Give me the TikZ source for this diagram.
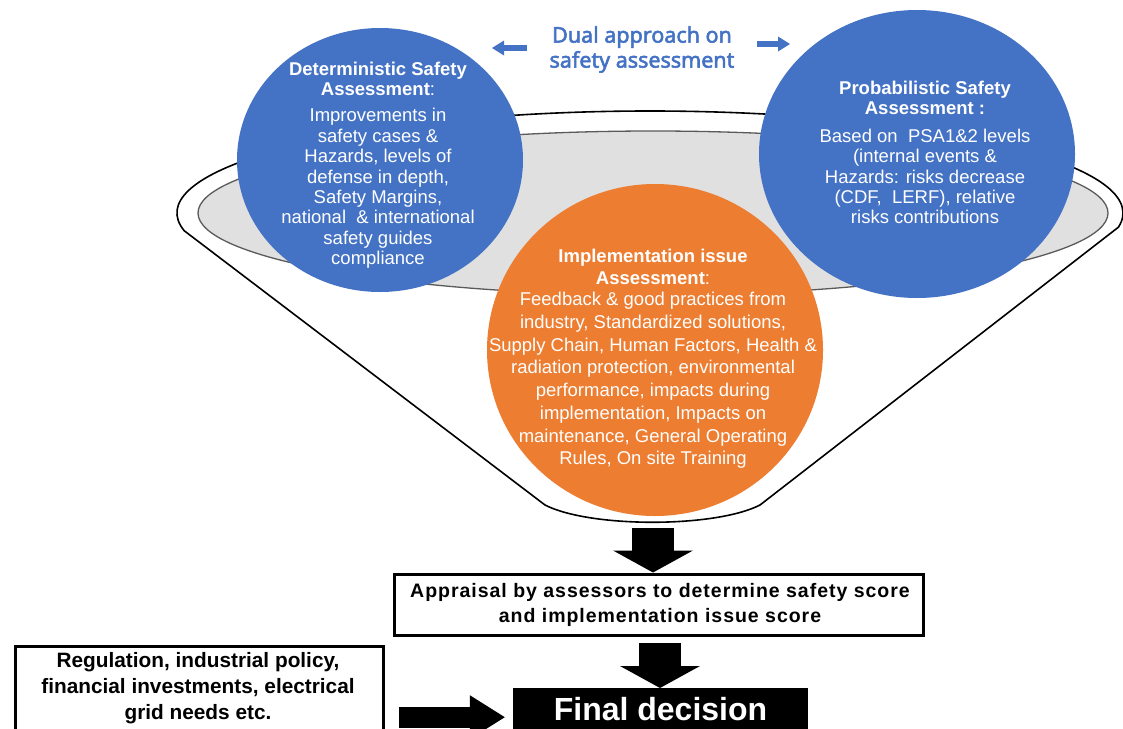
\documentclass[tikz,border=0pt]{standalone}
\usepackage{fontspec}
\setmainfont{Liberation Sans}
\newfontfamily\dualfont[FakeBold=2.5]{Noto Sans}
\newfontfamily\spacedfont[LetterSpace=5]{Liberation Sans}
\usetikzlibrary{arrows.meta,calc,shapes.geometric}

\definecolor{psablue}{RGB}{68,114,196}
\definecolor{issueorange}{RGB}{237,125,49}
\definecolor{rimgrey}{RGB}{224,224,224}
\definecolor{rimedge}{RGB}{90,90,90}

\tikzset{
  bubble/.style={ellipse, inner sep=0pt, outer sep=0pt, draw=none},
  headtext/.style={text=white, align=center, inner sep=0pt,
    font=\fontsize{18.5}{19.5}\selectfont\bfseries},
  bodytext/.style={text=white, align=center, inner sep=0pt,
    font=\fontsize{18.5}{20.4}\selectfont},
  issuetext/.style={text=white, align=center, inner sep=0pt,
    font=\fontsize{18.5}{22.7}\selectfont},
  framebox/.style={draw=black, line width=3pt, fill=white, inner sep=0pt},
  boxtext/.style 2 args={align=center, inner sep=0pt, font=\fontsize{#1}{#2}\selectfont\bfseries},
  bigarrow/.style={line width=42pt,
    -{Triangle[length=22pt 0, width=80pt 0, line width=0pt]}},
  smallarrow/.style={draw=psablue, line width=6pt,
    -{Triangle[length=12pt 0, width=15pt 0, line width=0pt]}},
}

\begin{document}
\begin{tikzpicture}[x=1pt, y=1pt]
\useasboundingbox (0,0) rectangle (1123,-728);

% funnel body with its rim
\coordinate (rim) at (650,-213);
\draw[line width=1.6pt, fill=white]
  ($(rim)+(190:473 and 102)$)
  arc[start angle=190, end angle=-8, x radius=473, y radius=102]
  -- (760,-505) .. controls (715,-528) and (590,-528) .. (545,-505) -- cycle;
\draw[fill=rimgrey, draw=rimedge, line width=1.3pt]
  (653,-213) ellipse [x radius=455, y radius=82];

% three assessment bubbles
\node[bubble, fill=psablue, minimum width=286, minimum height=264] (dsa) at (380,-160) {};
\node[bubble, fill=psablue, minimum width=316, minimum height=288] (psa) at (917,-154) {};
\node[bubble, fill=issueorange, minimum width=336, minimum height=332] (iia) at (655,-350) {};

\node[headtext] (dsahead) at (378,-79) {Deterministic Safety\\Assessment\textmd{:}};
\node[bodytext] (dsabody) at (378,-188.5) {Improvements in\\safety cases \&\\Hazards, levels of\\defense in depth,\\Safety Margins,\\national \ \& international\\safety guides\\compliance};

\node[headtext] (psahead) at (925,-98) {Probabilistic Safety\\Assessment :};
\node[bodytext] (psabody) at (925,-176.5) {Based on \ PSA1\&2 levels\\(internal events \&\\Hazards: risks decrease\\(CDF, \ LERF), relative\\risks contributions};

\node[headtext, font=\fontsize{18.5}{22}\selectfont\bfseries] (iiahead) at (653,-267) {Implementation issue\\Assessment\textmd{:}};
\node[issuetext] (iiabody) at (653,-380.5) {Feedback \& good practices from\\industry, Standardized solutions,\\Supply Chain, Human Factors, Health \&\\radiation protection, environmental\\performance, impacts during\\implementation, Impacts on\\maintenance, General Operating\\Rules, On site Training};

% dual approach caption with its two arrows
\node[text=psablue, align=center, inner sep=0pt, font=\dualfont\fontsize{21.5}{25}\selectfont] (dual) at (642,-49.5) {Dual approach on\\safety assessment};
\coordinate (lft) at (527,-48);
\coordinate (lftend) at (492,-48);
\coordinate (rgt) at (757,-44);
\coordinate (rgtend) at (790,-44);
\draw[smallarrow] (lft) -- (lftend);
\draw[smallarrow] (rgt) -- (rgtend);

% appraisal and decision boxes
\node[framebox, minimum width=529, minimum height=61] (appr) at (659,-604.5) {};
\node[align=center, inner sep=0pt, font=\spacedfont\fontsize{19.5}{25}\selectfont\bfseries] (apprtext) at (660,-605) {Appraisal by assessors to determine safety score\\and implementation issue score};

\node[framebox, minimum width=368, minimum height=110, anchor=north west] (ctx) at (13.5,-644.5) {};
\node[boxtext={20.8}{26}] (ctxtext) at (198,-688) {Regulation, industrial policy,\\financial investments, electrical\\grid needs etc.};

\node[fill=black, inner sep=0pt, minimum width=295, minimum height=60, anchor=north] (final) at (660.5,-688) {};
\node[text=white, inner sep=0pt, font=\fontsize{32}{36}\selectfont\bfseries] (finaltext) at (660.5,-709.5) {Final decision};

% flow arrows
\coordinate (fbot) at (653,-528);
\draw[bigarrow] (fbot) -- (fbot |- appr.north);
\coordinate (apprbot) at ($(appr.south)+(1,-6)$);
\draw[bigarrow] (apprbot) -- (apprbot |- final.north);
\coordinate (ctxout) at ($(ctx.east |- final.west)+(14,1)$);
\draw[bigarrow, line width=21pt, -{Triangle[length=35pt 0, width=44pt 0, line width=0pt]}]
  (ctxout) -- ($(final.west)+(-8,1)$);
\end{tikzpicture}
\end{document}
